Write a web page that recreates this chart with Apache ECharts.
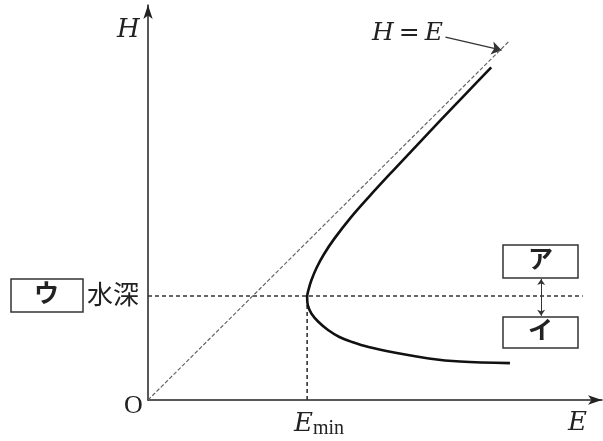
<!DOCTYPE html>
<html>
<head>
  <meta charset="utf-8">
  <title>比エネルギー曲線</title>
  <style>
    html, body { margin: 0; padding: 0; background: #fff; }
    #main { width: 603px; height: 441px; }
  </style>
</head>
<body>
  <div id="main"></div>
<script src="https://cdn.jsdelivr.net/npm/echarts@6/dist/echarts.min.js"></script>
<script>
// 比エネルギー E と水深 H (限界水深 = 1 とした目盛り)
let curveE = [3.30, 3.06, 2.82, 2.585, 2.35, 2.12, 1.945, 1.79, 1.69, 1.62, 1.57, 1.543, 1.53,
              1.537, 1.572, 1.64, 1.731, 1.84, 1.962, 2.12, 2.38, 2.70, 3.00, 3.48];
let curveH = [3.20, 2.95, 2.70, 2.45, 2.20, 1.95, 1.75, 1.55, 1.40, 1.27, 1.15, 1.06, 0.99,
              0.91, 0.83, 0.75, 0.673, 0.606, 0.558, 0.51, 0.455, 0.40, 0.37, 0.355];
let lineHE = [[0, 0], [3.47, 3.45]];   // H = E
let Hc = 1.0;          // 水深 (限界水深)
let Emin = 1.53;
let dashEnd = 4.18;
let arrowE = 3.78;     // ア・イ 間の矢印
let arrowH = [1.165, 0.81];
let calloutFrom = [2.86, 3.49];
let calloutTo = [3.40, 3.365];

let curve = curveE.map((e, i) => [e, curveH[i]]);

let myChart = echarts.init(document.querySelector('#main'));

let serif = '"DejaVu Serif", "Liberation Serif", serif';
let jp = '"Noto Sans CJK JP", sans-serif';

let option = {
    animation: false,
    grid: { left: 148, top: 5, right: 1, bottom: 41 },
    xAxis: {
        type: 'value', min: 0, max: 4.365,
        axisLine: { lineStyle: { color: '#222', width: 1.5 }, symbol: ['none', 'arrow'], symbolSize: [7, 14] },
        axisTick: { show: false }, axisLabel: { show: false }, splitLine: { show: false }
    },
    yAxis: {
        type: 'value', min: 0, max: 3.8,
        axisLine: { lineStyle: { color: '#222', width: 1.5 }, symbol: ['none', 'arrow'], symbolSize: [7, 14] },
        axisTick: { show: false }, axisLabel: { show: false }, splitLine: { show: false }
    },
    series: [
        {
            type: 'line', data: curve, smooth: 0.35, showSymbol: false,
            lineStyle: { color: '#111', width: 2.6 }, z: 5
        },
        {
            type: 'line', data: lineHE, showSymbol: false,
            lineStyle: { color: '#666', width: 1.2, type: [4, 2] }
        },
        {
            type: 'line', data: [[0, Hc], [dashEnd, Hc]], showSymbol: false,
            lineStyle: { color: '#333', width: 1.6, type: [4, 3] }
        },
        {
            type: 'line', data: [[Emin, 0], [Emin, Hc]], showSymbol: false,
            lineStyle: { color: '#333', width: 1.6, type: [4, 3] }
        },
        {
            type: 'lines', coordinateSystem: 'cartesian2d',
            symbol: ['arrow', 'arrow'], symbolSize: 6,
            lineStyle: { color: '#333', width: 1, opacity: 1 },
            data: [{ coords: [[arrowE, arrowH[0]], [arrowE, arrowH[1]]] }]
        },
        {
            type: 'lines', coordinateSystem: 'cartesian2d',
            symbol: ['none', 'arrow'], symbolSize: 10,
            lineStyle: { color: '#333', width: 1.3, opacity: 1 },
            data: [{ coords: [calloutFrom, calloutTo] }]
        }
    ],
    graphic: [
        { type: 'text', left: 117, top: 17, style: { text: 'H', font: 'italic 26px ' + serif, fill: '#222' } },
        { type: 'text', left: 124, top: 393, style: { text: 'O', font: '26px "Liberation Serif", serif', fill: '#222' } },
        { type: 'text', left: 568, top: 410, style: { text: 'E', font: 'italic 26px ' + serif, fill: '#222' } },
        { type: 'text', left: 294, top: 411, style: {
            text: '{e|E}{s|min}',
            rich: {
                e: { font: 'italic 26px ' + serif, fill: '#222' },
                s: { font: '20px "Liberation Serif", serif', fill: '#222', padding: [10, 0, 0, 0] }
            }
        } },
        { type: 'text', left: 372, top: 21, style: { text: 'H\u2009=\u2009E', font: 'italic 25px ' + serif, fill: '#222' } },
        { type: 'rect', shape: { x: 11, y: 279, width: 72, height: 33 }, style: { fill: '#fff', stroke: '#333', lineWidth: 1.5 } },
        { type: 'text', left: 34, top: 280, style: { text: 'ウ', font: 'bold 25px ' + jp, fill: '#222' } },
        { type: 'text', left: 87, top: 281, style: { text: '水深', font: '26px ' + jp, fill: '#222' } },
        { type: 'rect', shape: { x: 503, y: 245, width: 75, height: 33 }, style: { fill: '#fff', stroke: '#333', lineWidth: 1.5 } },
        { type: 'text', left: 528, top: 246, style: { text: 'ア', font: 'bold 25px ' + jp, fill: '#222' } },
        { type: 'rect', shape: { x: 503, y: 317, width: 75, height: 31 }, style: { fill: '#fff', stroke: '#333', lineWidth: 1.5 } },
        { type: 'text', left: 528, top: 317, style: { text: 'イ', font: 'bold 25px ' + jp, fill: '#222' } }
    ]
};
myChart.setOption(option);
</script>
</body>
</html>
